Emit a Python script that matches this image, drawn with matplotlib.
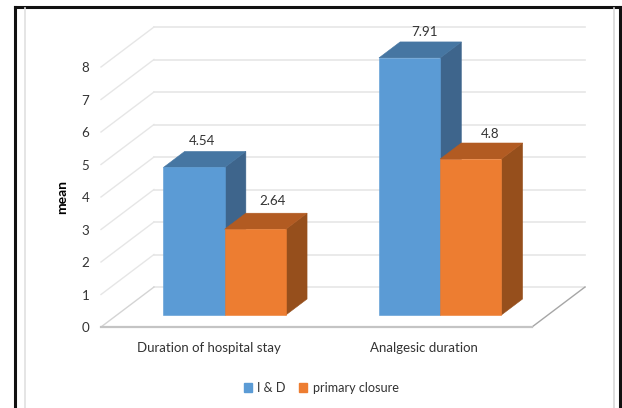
import matplotlib
matplotlib.use('Agg')
import matplotlib.pyplot as plt
from matplotlib.lines import Line2D
from matplotlib.patches import Patch

plt.rcParams['font.family'] = ['Lato', 'DejaVu Sans']

# Dati del grafico
categories = ['Duration of hospital stay', 'Analgesic duration']
series_names = ['I & D', 'primary closure']
id_values = [4.54, 7.91]
closure_values = [2.64, 4.8]
value_labels = ['4.54', '7.91', '2.64', '4.8']
y_ticks = [0, 1, 2, 3, 4, 5, 6, 7, 8]

# Colori: fronte, lato e tetto di ogni serie
BLUE = {'front': '#5B9BD5', 'side': '#3E658C', 'top': '#4676A2'}
ORANGE = {'front': '#ED7D31', 'side': '#964F1C', 'top': '#B25B22'}
GRID = '#E6E6E6'
TEXT = '#333333'

W, H = 622, 408
fig = plt.figure(figsize=(W / 100, H / 100), dpi=100, facecolor='white')
# Il piano frontale del pavimento coincide con gli assi
ax = fig.add_axes([101 / W, (H - 327) / H, 431 / W, 260 / H])
ax.set_xlim(-0.5, 1.5)
ax.set_ylim(0, 8)
ax.patch.set_visible(False)
for spine in ax.spines.values():
    spine.set_visible(False)

# Vettore di profondità della finta prospettiva, in unità dati
DEPTH_X = 53 / 215.5
DEPTH_Y = 40 / 32.5
BAR_W = 0.284
BAR_NEAR, BAR_FAR = 0.3, 0.7


def project(x, v, d):
    """Porta un punto (categoria, valore, profondità) sul piano degli assi."""
    return x + d * DEPTH_X, v + d * DEPTH_Y


def draw_bar(x0, value, colors):
    """Disegna una barra 3D: lato, tetto e fronte."""
    x1 = x0 + BAR_W
    corners = {
        'side': [(x1, 0, BAR_NEAR), (x1, 0, BAR_FAR), (x1, value, BAR_FAR), (x1, value, BAR_NEAR)],
        'top': [(x0, value, BAR_NEAR), (x0, value, BAR_FAR), (x1, value, BAR_FAR), (x1, value, BAR_NEAR)],
        'front': [(x0, 0, BAR_NEAR), (x1, 0, BAR_NEAR), (x1, value, BAR_NEAR), (x0, value, BAR_NEAR)],
    }
    for face, pts in corners.items():
        xs, ys = zip(*[project(*p) for p in pts])
        ax.fill(xs, ys, color=colors[face], lw=0.4, clip_on=False, zorder=3)


# Griglia: parete di fondo e diagonali sul lato sinistro
for t in y_ticks:
    bx, by = project(-0.5, t, 1)
    ex, ey = project(1.5, t, 1)
    ax.plot([bx, ex], [by, ey], color=GRID, lw=1.2, clip_on=False, zorder=1)
    if t > 0:
        ax.plot([-0.5, bx], [t, by], color=GRID, lw=1.0, clip_on=False, zorder=1)

# Bordi del pavimento
bx, by = project(-0.5, 0, 1)
ax.plot([-0.5, bx], [0, by], color='#D4D4D4', lw=1.0, clip_on=False, zorder=1)
ex, ey = project(1.5, 0, 1)
ax.plot([1.5, ex], [0, ey], color='#A6A6A6', lw=1.0, clip_on=False, zorder=1)
ax.plot([-0.5, 1.5], [0, 0], color='#C4C4C4', lw=1.6, clip_on=False, zorder=2)

# Barre e relative etichette (scostamenti in pixel dal centro del fronte)
label_dx = [7.5, 14.5, 17, 19]
label_dy = [26, 26, 28, 25]
positions = range(len(categories))
bars = [(i - BAR_W, v, BLUE) for i, v in zip(positions, id_values)]
bars += [(i, v, ORANGE) for i, v in zip(positions, closure_values)]
for k, (x0, v, colors) in enumerate(bars):
    draw_bar(x0, v, colors)
    ax.annotate(value_labels[k], project(x0 + BAR_W / 2, v, BAR_NEAR),
                xytext=(label_dx[k] * 0.72, label_dy[k] * 0.72), textcoords='offset points',
                ha='center', va='center', fontsize=9.6, color=TEXT, zorder=5,
                annotation_clip=False)

# Assi
ax.set_yticks(y_ticks)
ax.set_xticks(list(positions))
ax.set_xticklabels(categories)
ax.tick_params(axis='y', length=0, pad=8.5, labelsize=9.6, labelcolor=TEXT)
ax.tick_params(axis='x', length=0, pad=10.5, labelsize=9.5, labelcolor=TEXT)
ax.set_ylabel('mean', fontweight='bold', fontsize=10, color='black')
ax.yaxis.set_label_coords(-33 / 431, 0.5)

# Legenda
handles = [Patch(color=BLUE['front']), Patch(color=ORANGE['front'])]
fig.legend(handles, series_names, loc='center', bbox_to_anchor=(321 / W, 1 - 388 / H),
           ncol=2, frameon=False, fontsize=9.1, labelcolor=TEXT, handlelength=0.7,
           handleheight=0.7, handletextpad=0.4, columnspacing=1.0)

# Cornice esterna nera e filetti grigi interni
for xs, ys, lw, col in [
    ((14.5, 14.5), (408, 6.5), 2.2, '#111111'),
    ((14.5, 620), (6.5, 6.5), 2.2, '#111111'),
    ((620, 620), (6.5, 408), 2.2, '#111111'),
    ((25, 25), (408, 8), 1.2, '#E0E0E0'),
    ((614, 614), (408, 8), 1.2, '#D8D8D8'),
]:
    fig.add_artist(Line2D([x / W for x in xs], [1 - y / H for y in ys], color=col, lw=lw))

fig.savefig('out.png', dpi=100)
